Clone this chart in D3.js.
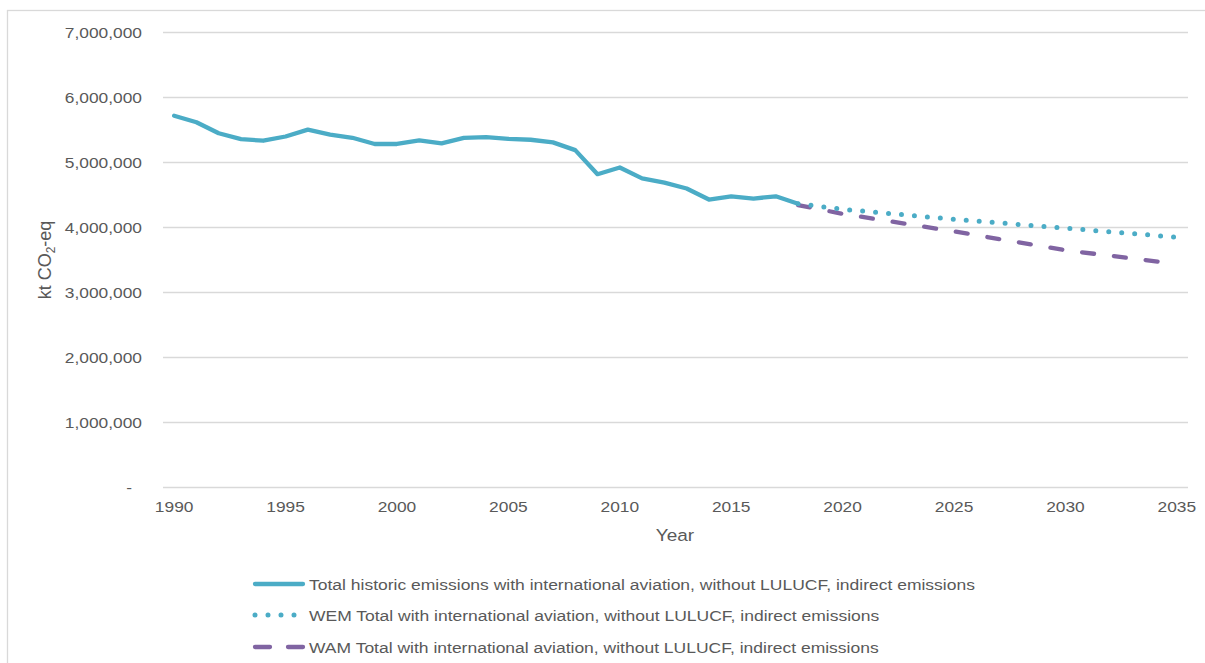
<!DOCTYPE html>
<html>
<head>
<meta charset="utf-8">
<script src="https://cdn.jsdelivr.net/npm/d3@7/dist/d3.min.js"></script>
<style>
  html, body { margin: 0; padding: 0; background: #fff; }
  text { font-family: "Liberation Sans", Arial, sans-serif; fill: #595959; }
</style>
</head>
<body>
<svg id="chart" width="1205" height="663"></svg>
<script>
// ---- data ----
const years = d3.range(1990, 2036);
const historicYears = [1990,1991,1992,1993,1994,1995,1996,1997,1998,1999,2000,2001,2002,2003,2004,2005,2006,2007,2008,2009,2010,2011,2012,2013,2014,2015,2016,2017,2018];
const historicValues = [5720000,5620000,5450000,5360000,5335000,5400000,5505000,5430000,5380000,5285000,5285000,5340000,5295000,5380000,5390000,5365000,5350000,5310000,5190000,4820000,4923000,4755000,4690000,4600000,4430000,4480000,4445000,4480000,4366000];
const wemYears = [2018, 2020, 2025, 2030, 2035];
const wemValues = [4366000, 4280000, 4126000, 3990000, 3850000];
const wamYears = [2018, 2020, 2025, 2030, 2035];
const wamValues = [4345000, 4210000, 3940000, 3650000, 3440000];
const yTicks = [0, 1000000, 2000000, 3000000, 4000000, 5000000, 6000000, 7000000];
const xTickYears = [1990, 1995, 2000, 2005, 2010, 2015, 2020, 2025, 2030, 2035];
const seriesNames = [
  "Total historic emissions with international aviation, without LULUCF, indirect emissions",
  "WEM Total with international aviation, without LULUCF, indirect emissions",
  "WAM Total with international aviation, without LULUCF, indirect emissions"
];

const svg = d3.select("#chart");
const plotLeft = 163, plotRight = 1188, plotTop = 32.5, plotBottom = 487.5;
const SX = 1.12; // horizontal text stretch

// outer frame
svg.append("rect").attr("x", 7.5).attr("y", 10.5).attr("width", 1220).attr("height", 700)
  .attr("fill", "none").attr("stroke", "#d9d9d9").attr("stroke-width", 1.3);

const xb = d3.scaleBand().domain(years).range([plotLeft, plotRight]);
const x = yr => xb(yr) + xb.bandwidth() / 2;
const y = d3.scaleLinear().domain([0, 7000000]).range([plotBottom, plotTop]);

// gridlines
svg.append("g").selectAll("line").data(yTicks).join("line")
  .attr("x1", plotLeft).attr("x2", plotRight)
  .attr("y1", d => y(d)).attr("y2", d => y(d))
  .attr("stroke", "#d9d9d9").attr("stroke-width", 1.3);

// y axis
const fmt = d3.format(",");
const yAxis = d3.axisLeft(y).tickValues(yTicks).tickSize(0).tickPadding(0)
  .tickFormat(d => d === 0 ? "-" : fmt(d));
const gy = svg.append("g").attr("transform", `translate(142,0)`).call(yAxis);
gy.select(".domain").remove();
gy.selectAll("text").style("font-size", "15.5px").attr("fill", "#595959")
  .attr("x", d => d === 0 ? -9 : 0)
  .attr("transform", `scale(${SX},1)`);

// x axis
const xAxis = d3.axisBottom(xb).tickValues(xTickYears).tickSize(0).tickPadding(0);
const gx = svg.append("g").attr("transform", `translate(0,${plotBottom + 13})`).call(xAxis);
gx.select(".domain").remove();
gx.selectAll("text").style("font-size", "15.5px").attr("fill", "#595959")
  .attr("transform", `scale(${SX},1)`);

// axis titles
svg.append("g").attr("transform", "translate(675,541)")
  .append("text").attr("text-anchor", "middle").attr("transform", `scale(1.15,1)`)
  .style("font-size", "16.5px").text("Year");
const yl = svg.append("text").attr("transform", "translate(51,260) rotate(-90)")
  .attr("text-anchor", "middle").style("font-size", "18px");
yl.append("tspan").text("kt CO");
yl.append("tspan").text("2").style("font-size", "12px").attr("dy", "4");
yl.append("tspan").text("-eq").attr("dy", "-4");

const line = d3.line().x(d => x(d[0])).y(d => y(d[1]));
const hist = historicYears.map((yr, i) => [yr, historicValues[i]]);
const wem = wemYears.map((yr, i) => [yr, wemValues[i]]);
const wam = wamYears.map((yr, i) => [yr, wamValues[i]]);

const blue = "#4BACC6", purple = "#8064A2";

svg.append("path").datum(hist).attr("d", line).attr("fill", "none")
  .attr("stroke", blue).attr("stroke-width", 4.3).attr("stroke-linejoin", "round").attr("stroke-linecap", "round");
svg.append("path").datum(wam).attr("d", line).attr("fill", "none")
  .attr("stroke", purple).attr("stroke-width", 4.3).attr("stroke-dasharray", "12 20").attr("stroke-linecap", "round");
svg.append("path").datum(wem).attr("d", line).attr("fill", "none")
  .attr("stroke", blue).attr("stroke-width", 5).attr("stroke-dasharray", "0 13").attr("stroke-linecap", "round");

// legend
const legY = [584, 615, 647];
const styles = [
  {c: blue, w: 4.3, dash: null},
  {c: blue, w: 5, dash: "0 13"},
  {c: purple, w: 4.3, dash: "15 18"}
];
const lg = svg.append("g");
seriesNames.forEach((name, i) => {
  const s = styles[i];
  const l = lg.append("line")
    .attr("x1", 255).attr("x2", i === 1 ? 300 : 303)
    .attr("y1", legY[i]).attr("y2", legY[i])
    .attr("stroke", s.c).attr("stroke-width", s.w).attr("stroke-linecap", "round");
  if (s.dash) l.attr("stroke-dasharray", s.dash);
  lg.append("g").attr("transform", `translate(309,${legY[i] + 5.5})`)
    .append("text").attr("transform", `scale(1.13,1)`)
    .style("font-size", "15.5px").text(name);
});
</script>
</body>
</html>
